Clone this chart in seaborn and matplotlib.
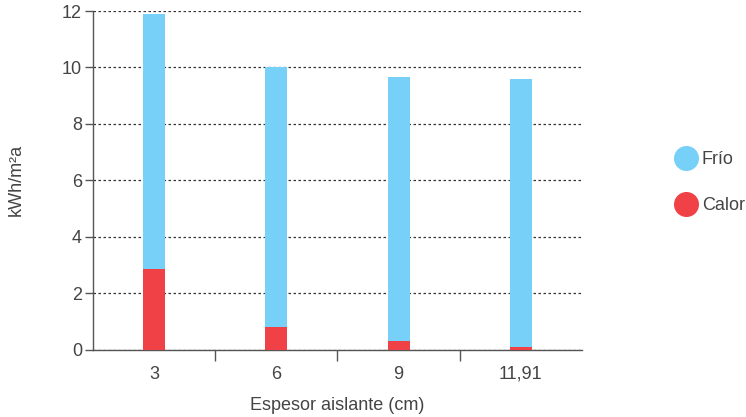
import seaborn as sns
from matplotlib import pyplot as plt
from matplotlib.lines import Line2D
import pandas as pd

espesor = ["3", "6", "9", "11,91"]
calor = [2.87, 0.81, 0.32, 0.10]
frio = [9.03, 9.19, 9.34, 9.50]

BLUE = "#76D0F7"
RED = "#EF4146"
TXT = "#444444"

df = pd.DataFrame({"espesor": espesor, "calor": calor, "frio": frio})
df["total"] = df["calor"] + df["frio"]

sns.set_style("white")
plt.rcParams["font.family"] = ["Liberation Sans", "DejaVu Sans"]

fig = plt.figure(figsize=(7.46, 4.17), dpi=100)
ax = fig.add_axes([0.1247, 0.161, 0.6553, 0.8126])

# total bar in blue, calor drawn over it so it reads as a stack
sns.barplot(data=df, x="espesor", y="total", color=BLUE, width=0.18,
            saturation=1, linewidth=0, ax=ax, zorder=3)
sns.barplot(data=df, x="espesor", y="calor", color=RED, width=0.18,
            saturation=1, linewidth=0, ax=ax, zorder=3)

ax.set_ylim(0, 12)
ax.set_xlim(-0.5, 3.5)
ax.set_yticks(range(0, 13, 2))
ax.yaxis.grid(True, linestyle=(0, (2, 2)), color="#333333", linewidth=0.9, zorder=0)
ax.set_axisbelow(True)

for s in ["top", "right"]:
    ax.spines[s].set_visible(False)
for s in ["left", "bottom"]:
    ax.spines[s].set_color("#555555")
    ax.spines[s].set_linewidth(1.0)

ax.tick_params(axis="y", left=True, length=6, width=1, color="#555555",
               labelsize=13, labelcolor=TXT, pad=2)
ax.tick_params(axis="x", bottom=False, labelsize=13, labelcolor=TXT, pad=8)
ax.set_xticks([0.5, 1.5, 2.5], minor=True)
ax.tick_params(axis="x", which="minor", bottom=True, length=8, width=1,
               color="#555555")

ax.set_xlabel("Espesor aislante (cm)", fontsize=13, color=TXT, labelpad=10)
ax.set_ylabel("kWh/m²a", fontsize=13, color=TXT, labelpad=27)

handles = [
    Line2D([], [], marker="o", linestyle="", markersize=17,
           markerfacecolor=BLUE, markeredgecolor=BLUE, label="Frío"),
    Line2D([], [], marker="o", linestyle="", markersize=17,
           markerfacecolor=RED, markeredgecolor=RED, label="Calor"),
]
fig.legend(handles=handles, loc="upper left", bbox_to_anchor=(0.895, 0.655),
           frameon=False, fontsize=13, labelcolor=TXT, handletextpad=0.3,
           labelspacing=1.6, handlelength=1.2, borderaxespad=0)

fig.savefig("out.png", dpi=100)
